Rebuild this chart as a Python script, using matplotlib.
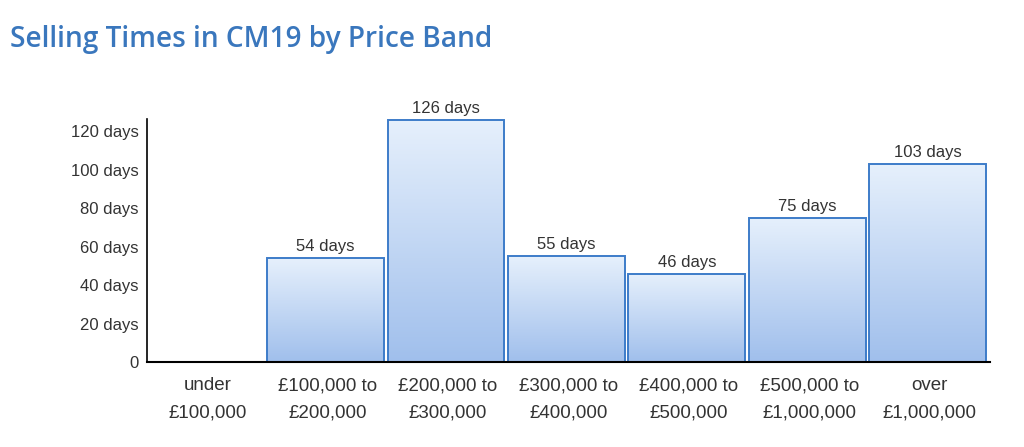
import matplotlib.pyplot as plt
import matplotlib.colors as mcolors
import numpy as np

bands = ['under\n£100,000', '£100,000 to\n£200,000', '£200,000 to\n£300,000',
         '£300,000 to\n£400,000', '£400,000 to\n£500,000', '£500,000 to\n£1,000,000',
         'over\n£1,000,000']
days = [0, 54, 126, 55, 46, 75, 103]
yticks = [0, 20, 40, 60, 80, 100, 120]
ytick_labels = ['0', '20 days', '40 days', '60 days', '80 days', '100 days', '120 days']

plt.rcParams['font.family'] = ['Liberation Sans', 'DejaVu Sans']

fig = plt.figure(figsize=(10.24, 4.47), dpi=100)
ax = fig.add_axes([0.1436, 0.1902, 0.8232, 0.5436])

grad = mcolors.LinearSegmentedColormap.from_list('g', ['#a0bfec', '#e6f0fc'])
gimg = np.linspace(0, 1, 256).reshape(-1, 1)

x = np.arange(len(bands))
bars = ax.bar(x - 0.018, days, width=0.97, facecolor='none', edgecolor='#3d7cc9',
              linewidth=1.4, zorder=3)
for b, v in zip(bars, days):
    if v <= 0:
        b.set_visible(False)
        continue
    x0, w = b.get_x(), b.get_width()
    im = ax.imshow(gimg, cmap=grad, aspect='auto', origin='lower',
                   extent=[x0, x0 + w, 0, v], zorder=2)
    im.set_clip_path(b)
    ax.text(x0 + w / 2, v + 2, f'{v} days', ha='center', va='bottom',
            fontsize=12, color='#333333')

ax.set_xlim(-0.5, 6.5)
ax.set_ylim(0, 126.5)
ax.set_xticks(x)
ax.set_xticklabels(bands, fontsize=13.5, color='#333333', linespacing=1.8)
ax.set_yticks(yticks)
ax.set_yticklabels(ytick_labels, fontsize=12, color='#333333')
ax.tick_params(length=0, pad=6)
ax.tick_params(axis='x', pad=11)
for s in ['top', 'right']:
    ax.spines[s].set_visible(False)
ax.spines['left'].set_linewidth(1.2)
ax.spines['bottom'].set_linewidth(1.5)
ax.spines['bottom'].set_zorder(4)

fig.text(0.0098, 0.895, 'Selling Times in CM19 by Price Band', fontsize=20.2,
         color='#3a77bd', family=['Open Sans', 'DejaVu Sans'], weight='semibold',
         ha='left', va='baseline')

fig.savefig('out.png', dpi=100)
